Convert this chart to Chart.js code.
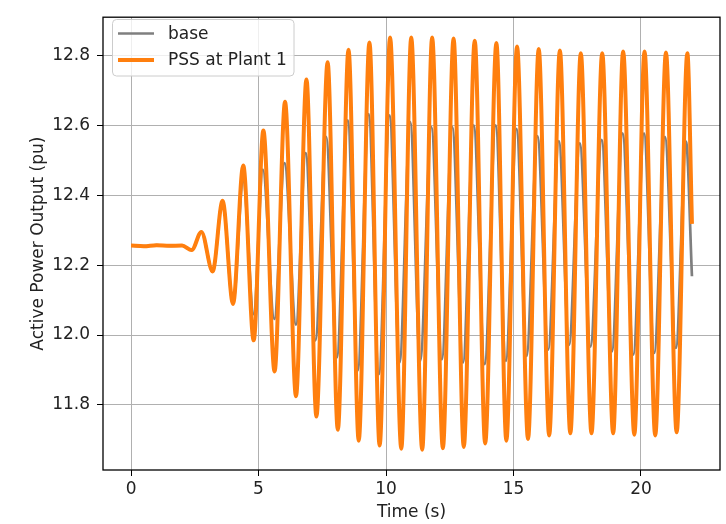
<!DOCTYPE html>
<html>
<head>
<meta charset="utf-8">
<script src="https://cdn.jsdelivr.net/npm/chart.js@4"></script>
<style>
  body { margin: 0; background: #fff; }
</style>
</head>
<body>
<canvas id="powerChart" width="726" height="524"></canvas>
<script>
// 读图得到的极值点（时间 s, 有功功率 pu）
const baseTime = [0, 0.5, 1.0, 1.5, 2.0, 2.38, 2.76, 3.2, 3.59, 4.0, 4.4, 4.81, 5.17, 5.62, 6.02, 6.47, 6.85, 7.23, 7.65, 8.07, 8.5, 8.89, 9.32, 9.72, 10.14, 10.53, 10.95, 11.34, 11.78, 12.19, 12.6, 13.02, 13.44, 13.87, 14.3, 14.7, 15.12, 15.51, 15.94, 16.36, 16.78, 17.18, 17.6, 18.02, 18.46, 18.86, 19.28, 19.7, 20.12, 20.52, 20.94, 21.37, 21.77, 22.0];
const basePower = [12.256, 12.254, 12.257, 12.255, 12.256, 12.243, 12.295, 12.182, 12.384, 12.089, 12.44, 12.06, 12.473, 12.046, 12.492, 12.03, 12.52, 11.985, 12.567, 11.935, 12.614, 11.898, 12.632, 11.888, 12.628, 11.921, 12.609, 11.926, 12.595, 11.93, 12.595, 11.921, 12.6, 11.917, 12.6, 11.926, 12.59, 11.94, 12.569, 11.958, 12.555, 11.972, 12.548, 11.967, 12.558, 11.953, 12.577, 11.944, 12.577, 11.949, 12.567, 11.963, 12.553, 12.168];

const pssTime = [0, 0.5, 1.0, 1.5, 2.0, 2.38, 2.76, 3.2, 3.59, 4.0, 4.4, 4.81, 5.19, 5.63, 6.04, 6.47, 6.88, 7.27, 7.71, 8.11, 8.53, 8.93, 9.35, 9.75, 10.16, 10.6, 10.99, 11.42, 11.81, 12.23, 12.65, 13.05, 13.48, 13.89, 14.33, 14.72, 15.14, 15.57, 15.99, 16.4, 16.82, 17.23, 17.64, 18.06, 18.48, 18.91, 19.3, 19.74, 20.14, 20.56, 20.98, 21.4, 21.82, 22.0];
const pssPower = [12.256, 12.254, 12.257, 12.255, 12.256, 12.243, 12.295, 12.182, 12.384, 12.089, 12.485, 11.985, 12.585, 11.896, 12.667, 11.825, 12.731, 11.767, 12.78, 11.729, 12.816, 11.698, 12.837, 11.684, 12.851, 11.675, 12.851, 11.672, 12.851, 11.676, 12.848, 11.68, 12.842, 11.69, 12.835, 11.698, 12.825, 11.703, 12.818, 11.713, 12.814, 11.719, 12.806, 11.719, 12.806, 11.719, 12.811, 11.715, 12.811, 11.713, 12.808, 11.722, 12.806, 12.318];

const xTicks = [0, 5, 10, 15, 20];
const yTicks = [11.8, 12.0, 12.2, 12.4, 12.6, 12.8];

const FONT = 'DejaVu Sans';

const toPoints = (xs, ys) => xs.map((x, i) => ({ x: x, y: ys[i] }));

// 坐标框（四边）
const framePlugin = {
    id: 'frame',
    afterDatasetsDraw(chart) {
        const { ctx, chartArea: a } = chart;
        ctx.save();
        ctx.strokeStyle = '#000';
        ctx.lineWidth = 1.3;
        ctx.strokeRect(a.left, a.top, a.right - a.left, a.bottom - a.top);
        ctx.restore();
    }
};

// 图例（放在绘图区左上角，带边框）
const legendBoxPlugin = {
    id: 'legendBox',
    afterDraw(chart) {
        const ctx = chart.ctx;
        ctx.save();
        ctx.beginPath();
        ctx.roundRect(112.5, 19.5, 181.5, 56.5, 4);
        ctx.fillStyle = 'rgba(255,255,255,0.8)';
        ctx.fill();
        ctx.strokeStyle = '#cccccc';
        ctx.lineWidth = 1;
        ctx.stroke();
        ctx.font = '17px "' + FONT + '"';
        ctx.textBaseline = 'middle';
        ctx.lineCap = 'butt';
        chart.data.datasets.forEach((ds, i) => {
            const y = 33.5 + i * 26.5;
            ctx.strokeStyle = ds.borderColor;
            ctx.lineWidth = ds.borderWidth;
            ctx.beginPath();
            ctx.moveTo(118, y);
            ctx.lineTo(154, y);
            ctx.stroke();
            ctx.fillStyle = '#222';
            ctx.fillText(ds.label, 168, y + 1);
        });
        ctx.restore();
    }
};

new Chart(document.getElementById('powerChart'), {
    type: 'line',
    data: {
        datasets: [
            {
                label: 'base',
                data: toPoints(baseTime, basePower),
                borderColor: '#7f7f7f',
                borderWidth: 2.7,
                pointRadius: 0,
                fill: false,
                order: 2,
                cubicInterpolationMode: 'monotone'
            },
            {
                label: 'PSS at Plant 1',
                data: toPoints(pssTime, pssPower),
                borderColor: '#ff7f0e',
                borderWidth: 4,
                pointRadius: 0,
                fill: false,
                order: 1,
                cubicInterpolationMode: 'monotone'
            }
        ]
    },
    options: {
        responsive: false,
        animation: false,
        events: [],
        layout: { padding: { top: 11, right: 6, left: 0, bottom: 0 } },
        scales: {
            x: {
                type: 'linear',
                min: -1.1,
                max: 23.1,
                afterBuildTicks: (s) => { s.ticks = xTicks.map(v => ({ value: v })); },
                afterFit: (s) => { s.height = 54; },
                grid: { color: '#b0b0b0', lineWidth: 1, tickColor: '#000', tickLength: 6 },
                border: { display: false },
                ticks: { color: '#222', font: { family: FONT, size: 17 }, padding: 3, maxRotation: 0 },
                title: { display: true, text: 'Time (s)', color: '#222', font: { family: FONT, size: 17 }, padding: { top: 0, bottom: 1 } }
            },
            y: {
                min: 11.614,
                max: 12.909,
                afterBuildTicks: (s) => { s.ticks = yTicks.map(v => ({ value: v })); },
                afterFit: (s) => { s.width = 103; },
                grid: { color: '#b0b0b0', lineWidth: 1, tickColor: '#000', tickLength: 6 },
                border: { display: false },
                ticks: { color: '#222', font: { family: FONT, size: 17 }, padding: 7, callback: (v) => v.toFixed(1) },
                title: { display: true, text: 'Active Power Output (pu)', color: '#222', font: { family: FONT, size: 17 }, padding: { top: 28, bottom: 0 } }
            }
        },
        plugins: {
            legend: { display: false },
            tooltip: { enabled: false }
        }
    },
    plugins: [framePlugin, legendBoxPlugin]
});
</script>
</body>
</html>
